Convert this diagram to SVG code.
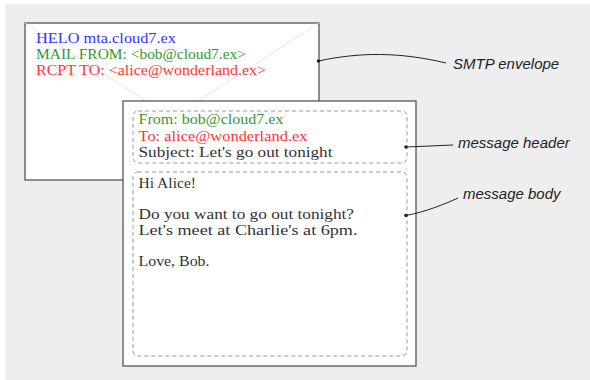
<svg xmlns="http://www.w3.org/2000/svg" width="590" height="380" viewBox="0 0 590 380">
<style>
.box{fill:#fff;stroke:#555;stroke-width:1.3}
.dash{fill:none;stroke:#999;stroke-width:1;stroke-dasharray:4,3}
.mono{font-family:"Liberation Serif","Times New Roman",serif;font-size:14px}
.lbl{font-family:"Liberation Sans",Arial,sans-serif;font-size:15px;font-style:italic;fill:#222}
.con{fill:none;stroke:#222;stroke-width:1}
.blue{fill:#3333ff}.green{fill:#339933}.red{fill:#ff3333}.dark{fill:#333}
</style>
<rect x="5" y="4" width="585" height="376" fill="#eeeeee"/>
<g id="envelope">
<rect class="box" x="25" y="23" width="294" height="157"/>
<path d="M25,23 L172,118 L319,23" fill="none" stroke="#e4e4e4" stroke-width="1"/>
<text class="mono blue" x="36" y="43" textLength="140" lengthAdjust="spacingAndGlyphs">HELO mta.cloud7.ex</text>
<text class="mono green" x="36" y="59" textLength="210" lengthAdjust="spacingAndGlyphs">MAIL FROM: &lt;bob@cloud7.ex&gt;</text>
<text class="mono red" x="36" y="75" textLength="230" lengthAdjust="spacingAndGlyphs">RCPT TO: &lt;alice@wonderland.ex&gt;</text>
</g>
<g id="message">
<rect class="box" x="123" y="101" width="293" height="265"/>
</g>
<g id="header">
<rect class="dash" x="133" y="111" width="274" height="52" rx="5"/>
<text class="mono green" x="138.5" y="124" textLength="145" lengthAdjust="spacingAndGlyphs">From: bob@cloud7.ex</text>
<text class="mono red" x="138.5" y="140.5" textLength="169" lengthAdjust="spacingAndGlyphs">To: alice@wonderland.ex</text>
<text class="mono dark" x="138.5" y="156.5" textLength="194" lengthAdjust="spacingAndGlyphs">Subject: Let's go out tonight</text>
</g>
<g id="body">
<rect class="dash" x="133" y="172" width="274" height="184" rx="5"/>
<text class="mono dark" x="138.5" y="188" textLength="57.5" lengthAdjust="spacingAndGlyphs">Hi Alice!</text>
<text class="mono dark" x="138.5" y="219" textLength="215.5" lengthAdjust="spacingAndGlyphs">Do you want to go out tonight?</text>
<text class="mono dark" x="138.5" y="235" textLength="219" lengthAdjust="spacingAndGlyphs">Let's meet at Charlie's at 6pm.</text>
<text class="mono dark" x="138.5" y="266" textLength="71" lengthAdjust="spacingAndGlyphs">Love, Bob.</text>
</g>
<g id="labels">
<text class="lbl" x="453" y="69">SMTP envelope</text>
<text class="lbl" x="458" y="148">message header</text>
<text class="lbl" x="463" y="199">message body</text>
</g>
<g id="connectors">
<path class="con" d="M318.5,61 C360,52 400,52 446,63"/>
<circle cx="318.5" cy="61" r="1.8" fill="#222"/>
<path class="con" d="M406,147 L453,145"/>
<circle cx="406" cy="147" r="1.8" fill="#222"/>
<path class="con" d="M406,215.5 C425,212 445,204 458,198"/>
<circle cx="406" cy="215.5" r="1.8" fill="#222"/>
</g>
</svg>
